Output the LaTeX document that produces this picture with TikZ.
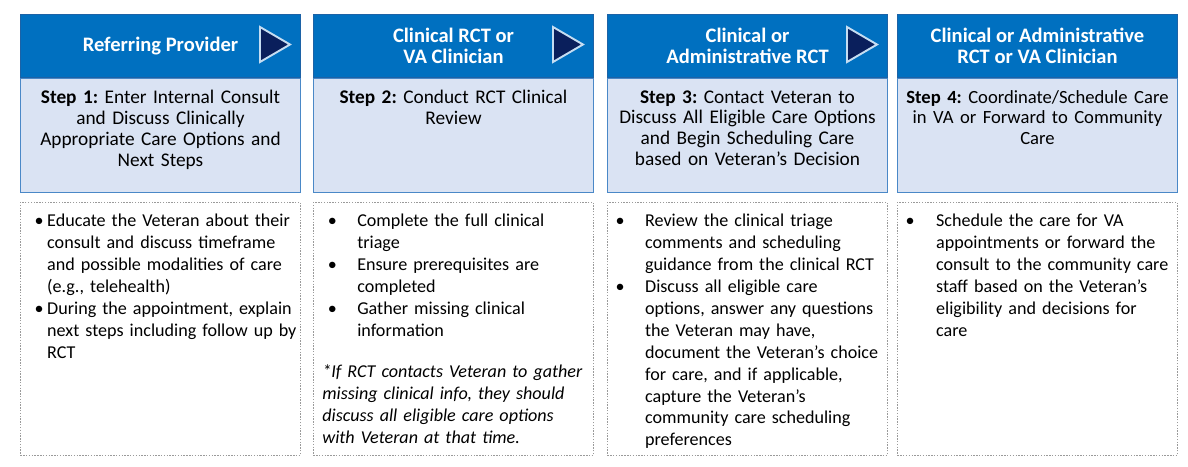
\documentclass[tikz,border=0pt]{standalone}
\usepackage{fontspec}
\setmainfont{Carlito}
\usepackage{enumitem}
\usetikzlibrary{positioning}
\definecolor{hdrblue}{HTML}{0070C0}
\definecolor{hdredge}{HTML}{1C62A6}
\definecolor{trinavy}{HTML}{0A1F5C}
\definecolor{tripale}{HTML}{C5DDF2}
\definecolor{steplight}{HTML}{DAE3F3}
\definecolor{stepedge}{HTML}{4A88C7}
\definecolor{notegray}{HTML}{9A9A9A}
\tikzset{
  hdr/.style={draw=hdredge,fill=hdrblue,line width=0.6pt,minimum width=5.6cm,minimum height=1.26cm,inner sep=0},
  hdrtext/.style={text=white,font=\fontsize{11.7}{12}\selectfont\bfseries,align=center,inner sep=0},
  stepbox/.style={draw=stepedge,fill=steplight,line width=0.8pt,minimum width=5.6cm,minimum height=2.28cm,inner sep=0},
  steptext/.style={font=\fontsize{11}{11.9}\selectfont,align=center,text width=5.5cm,inner sep=0},
  playtri/.style={draw=tripale,fill=trinavy,line width=1.1pt,line join=miter},
  notebox/.style={draw=notegray,line width=0.5pt,dash pattern=on 0.8pt off 0.8pt,minimum width=5.6cm,minimum height=5.06cm,inner sep=0},
  % bullet text of the lower boxes; offsets of bullet and text differ per box
  notetext/.style={font=\fontsize{10.3}{12.5}\selectfont,text width=6.5cm,align=left,inner sep=0,anchor=north west},
}
\setlist[itemize]{label=\textbullet,topsep=0pt,partopsep=0pt,parsep=0pt,itemsep=0pt}
\frenchspacing

\begin{document}
\begin{tikzpicture}[x=0.02cm,y=-0.02cm]
  \useasboundingbox (0,0) rectangle (1188,467);
  % one column: header with role, step box below it, notes box further down
  \newcommand{\stage}[5]{% #1 = id, #2 = left edge (px), #3 = role, #4 = step text, #5 = draw the arrow (1) or not (0)
    \node[hdr,anchor=north west] (h#1) at (#2,14) {};
    \node[stepbox,below=0pt of h#1] (s#1) {};
    \node[notebox,anchor=north west] (n#1) at (#2,202) {};
    \node[hdrtext] (ht#1) at (h#1.center) {#3};
    \node[steptext,below=6.8pt of s#1.north] (st#1) {#4};
    \ifnum#5=1 \draw[playtri] (h#1.north west) ++(240,13) -- ++(30,17.5) -- ++(-30,17.5) -- cycle; \fi
  }
  \stage{1}{20}{Referring Provider}{\textbf{Step 1:} Enter Internal Consult\\and Discuss Clinically\\Appropriate Care Options and\\Next Steps}{1}
  \stage{2}{313}{Clinical RCT or\\VA Clinician}{\textbf{Step 2:} Conduct RCT Clinical\\Review}{1}
  \stage{3}{607}{Clinical or\\Administrative RCT}{\textbf{Step 3:} Contact Veteran to\\Discuss All Eligible Care Options\\and Begin Scheduling Care\\based on Veteran’s Decision}{1}
  \stage{4}{897}{Clinical or Administrative\\RCT or VA Clinician}{\fontsize{10.6}{11.3}\selectfont\textbf{Step 4:} Coordinate/Schedule Care\\in VA or Forward to Community\\Care}{0}

  \node[notetext] (nt1) at (20,204) {%
    \begin{itemize}[leftmargin=15.3pt,labelsep=2pt]
      \item Educate the Veteran about their\\consult and discuss timeframe\\and possible modalities of care\\(e.g., telehealth)
      \item During the appointment, explain\\next steps including follow up by\\RCT
    \end{itemize}};
  \node[notetext] (nt2) at (313,204) {%
    \begin{itemize}[leftmargin=25pt,labelsep=11.6pt]
      \item Complete the full clinical\\triage
      \item Ensure prerequisites are\\completed
      \item Gather missing clinical\\information
    \end{itemize}};
  \node[notetext,font=\fontsize{10.3}{12.5}\selectfont\itshape] (nt2b) at (322,364)
    {*If RCT contacts Veteran to gather\\missing clinical info, they should\\discuss all eligible care options\\with Veteran at that time.};
  \node[notetext] (nt3) at (607,204) {%
    \begin{itemize}[leftmargin=21.5pt,labelsep=11.6pt]
      \item Review the clinical triage\\comments and scheduling\\guidance from the clinical RCT
      \item Discuss all eligible care\\options, answer any questions\\the Veteran may have,\\document the Veteran’s choice\\for care, and if applicable,\\capture the Veteran’s\\community care scheduling\\preferences
    \end{itemize}};
  \node[notetext] (nt4) at (897,204) {%
    \begin{itemize}[leftmargin=22.1pt,labelsep=12.2pt]
      \item Schedule the care for VA\\appointments or forward the\\consult to the community care\\staff based on the Veteran’s\\eligibility and decisions for\\care
    \end{itemize}};
\end{tikzpicture}
\end{document}
